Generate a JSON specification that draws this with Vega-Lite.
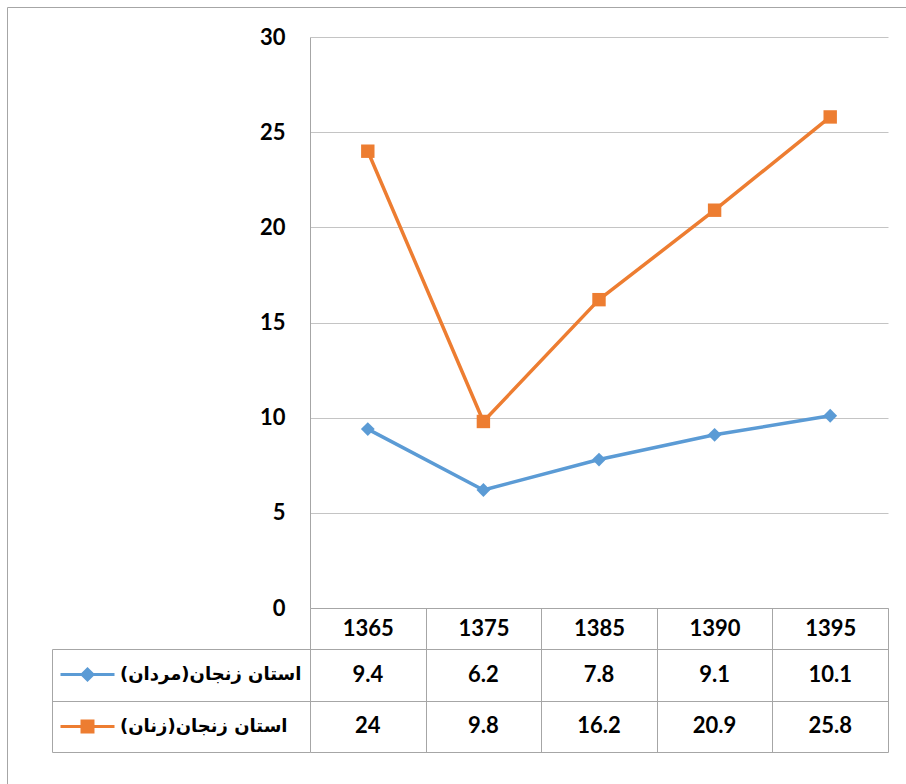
{
  "$schema": "https://vega.github.io/schema/vega-lite/v6.json",
  "width": 899,
  "height": 777,
  "autosize": {"type": "none"},
  "padding": {"left": 7, "top": 7, "right": 0, "bottom": 0},
  "background": "white",
  "config": {
    "view": {"stroke": "#a6a6a6", "strokeWidth": 1},
    "axis": {"labelFont": "Lato", "labelFontWeight": "bold", "labelFontSize": 22, "labelColor": "#000000", "title": null, "labelOverlap": false, "labelFlush": false},
    "legend": {
      "orient": "none", "legendX": 56.5, "legendY": 643.5, "title": null, "direction": "vertical", "padding": 0,
      "symbolSize": 2025, "symbolStrokeWidth": 3, "symbolOpacity": 1, "labelOffset": 8.5, "rowPadding": 16, "labelLimit": 400,
      "labelFont": "DejaVu Sans", "labelFontSize": 18, "labelFontWeight": "bold", "labelColor": "#000000", "labelBaseline": "middle"
    }
  },
  "data": {
    "values": [
      {"year": "1365", "series": "استان زنجان(مردان)", "value": 9.4},
      {"year": "1375", "series": "استان زنجان(مردان)", "value": 6.2},
      {"year": "1385", "series": "استان زنجان(مردان)", "value": 7.8},
      {"year": "1390", "series": "استان زنجان(مردان)", "value": 9.1},
      {"year": "1395", "series": "استان زنجان(مردان)", "value": 10.1},
      {"year": "1365", "series": "استان زنجان(زنان)", "value": 24},
      {"year": "1375", "series": "استان زنجان(زنان)", "value": 9.8},
      {"year": "1385", "series": "استان زنجان(زنان)", "value": 16.2},
      {"year": "1390", "series": "استان زنجان(زنان)", "value": 20.9},
      {"year": "1395", "series": "استان زنجان(زنان)", "value": 25.8}
    ]
  },
  "resolve": {
    "scale": {"y": "independent", "color": "independent", "shape": "independent"},
    "axis": {"y": "independent"},
    "legend": {"color": "independent", "shape": "independent"}
  },
  "layer": [
    {
      "layer": [
        {
          "mark": {"type": "line", "strokeWidth": 3.5, "strokeJoin": "round", "strokeCap": "round"},
          "encoding": {
            "x": {
              "field": "year", "type": "ordinal",
              "scale": {"type": "band", "paddingInner": 0, "paddingOuter": 0, "range": [303, 881]},
              "axis": {"orient": "bottom", "offset": -176, "tickBand": "extent", "ticks": true, "tickSize": 144, "tickColor": "#a6a6a6", "tickWidth": 1, "domain": true, "domainColor": "#a6a6a6", "labelPadding": -123.5, "labelBaseline": "middle", "labelAngle": 0, "grid": false}
            },
            "y": {
              "field": "value", "type": "quantitative",
              "scale": {"domain": [0, 30], "range": [601, 30], "nice": false},
              "axis": {"orient": "left", "offset": -303, "values": [0, 5, 10, 15, 20, 25, 30], "ticks": false, "domain": true, "domainColor": "#a6a6a6", "labelPadding": 25, "labelBaseline": "middle", "grid": true, "gridColor": "#c4c4c4", "gridWidth": 1}
            },
            "color": {
              "field": "series", "type": "nominal",
              "scale": {"domain": ["استان زنجان(مردان)", "استان زنجان(زنان)"], "range": ["#5B9BD5", "#ED7D31"]},
              "legend": null
            }
          }
        },
        {
          "transform": [{"filter": "datum.series == 'استان زنجان(مردان)'"}],
          "mark": {"type": "point", "shape": "diamond", "filled": true, "size": 190, "opacity": 1},
          "encoding": {
            "x": {"field": "year", "type": "ordinal", "scale": {"type": "band", "paddingInner": 0, "paddingOuter": 0, "range": [303, 881]}},
            "y": {"field": "value", "type": "quantitative", "scale": {"domain": [0, 30], "range": [601, 30], "nice": false}},
            "color": {"field": "series", "type": "nominal", "scale": {"domain": ["استان زنجان(مردان)", "استان زنجان(زنان)"], "range": ["#5B9BD5", "#ED7D31"]}, "legend": null}
          }
        },
        {
          "transform": [{"filter": "datum.series == 'استان زنجان(زنان)'"}],
          "mark": {"type": "point", "shape": "square", "filled": true, "size": 180, "opacity": 1},
          "encoding": {
            "x": {"field": "year", "type": "ordinal", "scale": {"type": "band", "paddingInner": 0, "paddingOuter": 0, "range": [303, 881]}},
            "y": {"field": "value", "type": "quantitative", "scale": {"domain": [0, 30], "range": [601, 30], "nice": false}},
            "color": {"field": "series", "type": "nominal", "scale": {"domain": ["استان زنجان(مردان)", "استان زنجان(زنان)"], "range": ["#5B9BD5", "#ED7D31"]}, "legend": null}
          }
        }
      ]
    },
    {
      "mark": {"type": "text", "font": "Lato", "fontWeight": "bold", "fontSize": 22, "color": "#000000", "baseline": "middle", "align": "center"},
      "encoding": {
        "x": {"field": "year", "type": "ordinal", "scale": {"type": "band", "paddingInner": 0, "paddingOuter": 0, "range": [303, 881]}},
        "y": {
          "field": "series", "type": "nominal",
          "scale": {"type": "band", "domain": ["استان زنجان(مردان)", "استان زنجان(زنان)"], "range": [642, 745], "paddingInner": 0, "paddingOuter": 0},
          "axis": {"orient": "left", "offset": -45, "tickBand": "extent", "ticks": true, "tickSize": -258, "tickColor": "#a6a6a6", "labels": false, "domain": true, "domainColor": "#a6a6a6", "grid": true, "gridColor": "#a6a6a6", "title": null}
        },
        "text": {"field": "value", "type": "quantitative", "format": "~g"}
      }
    },
    {
      "mark": {"type": "point", "filled": false, "opacity": 0, "strokeWidth": 3},
      "encoding": {
        "x": {"field": "year", "type": "ordinal", "scale": {"type": "band", "paddingInner": 0, "paddingOuter": 0, "range": [303, 881]}},
        "y": {"field": "value", "type": "quantitative", "scale": {"domain": [0, 30], "range": [601, 30], "nice": false}, "axis": null},
        "color": {
          "field": "series", "type": "nominal",
          "scale": {"domain": ["استان زنجان(مردان)", "استان زنجان(زنان)"], "range": ["#5B9BD5", "#ED7D31"]},
          "legend": {"labelExpr": "datum.label + '\u200f'"}
        },
        "shape": {
          "field": "series", "type": "nominal",
          "scale": {"domain": ["استان زنجان(مردان)", "استان زنجان(زنان)"], "range": [
            "M-1.2,0H1.2M0,-0.244V0.244M-0.244,0L0,-0.244L0.244,0L0,0.244ZM-0.111,0L0,-0.111L0.111,0L0,0.111Z",
            "M-1.2,0H1.2M0,-0.244V0.244M-0.244,-0.244H0.244V0.244H-0.244ZM-0.111,-0.111H0.111V0.111H-0.111Z"
          ]},
          "legend": {"labelExpr": "datum.label + '\u200f'"}
        }
      }
    }
  ]
}
